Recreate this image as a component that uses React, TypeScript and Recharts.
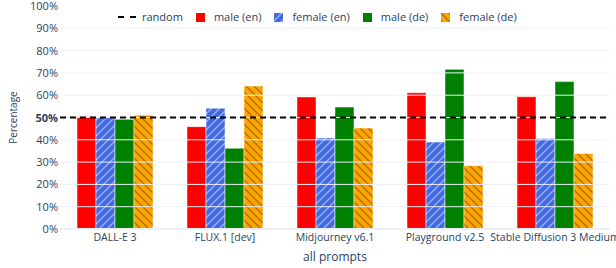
import React from 'react';
import { BarChart, Bar, XAxis, YAxis, ReferenceLine } from 'recharts';

const categories = ['DALL-E 3', 'FLUX.1 [dev]', 'Midjourney v6.1', 'Playground v2.5', 'Stable Diffusion 3 Medium'];
const maleEn = [50.3, 45.9, 59.2, 61.1, 59.3];
const femaleEn = [49.9, 54.2, 40.8, 39.0, 40.6];
const maleDe = [49.2, 36.2, 54.7, 71.6, 66.1];
const femaleDe = [51.0, 64.1, 45.3, 28.4, 33.9];
const randomLevel = 50;
const yTicks = [0, 10, 20, 30, 40, 50, 60, 70, 80, 90, 100];
const gridTicks = [10, 20, 30, 40, 50, 60, 70, 80, 90];

const data = categories.map((name, i) => ({
  name,
  maleEn: maleEn[i],
  femaleEn: femaleEn[i],
  maleDe: maleDe[i],
  femaleDe: femaleDe[i],
}));

const FONT = "'Open Sans', verdana, arial, sans-serif";
const TEXT = '#2a3f5f';
const GRID = '#ebf0f8';

const HatchDefs = ({ prefix }) => (
  <defs>
    <pattern id={`${prefix}-blue`} patternUnits="userSpaceOnUse" width="8" height="8">
      <rect width="8" height="8" fill="#4169e1" />
      <path d="M-2,2 l4,-4 M0,8 l8,-8 M6,10 l4,-4" stroke="rgba(255,255,255,0.45)" strokeWidth="1.5" />
    </pattern>
    <pattern id={`${prefix}-orange`} patternUnits="userSpaceOnUse" width="8" height="8">
      <rect width="8" height="8" fill="#ffa500" />
      <path d="M-2,6 l4,4 M0,0 l8,8 M6,-2 l4,4" stroke="rgba(0,0,0,0.3)" strokeWidth="1.5" />
    </pattern>
  </defs>
);

const YTick = ({ x, y, payload }) => (
  <text
    x={x}
    y={y}
    dy={4}
    textAnchor="end"
    fill={TEXT}
    fontSize={11}
    fontFamily={FONT}
    fontWeight={payload.value === randomLevel ? 'bold' : 'normal'}
  >
    {payload.value}%
  </text>
);

const XTick = ({ x, y, payload }) => (
  <text x={x} y={y} dy={12} textAnchor="middle" fill={TEXT} fontSize={10.5} fontFamily={FONT}>
    {payload.value}
  </text>
);

const legendItems = [
  { name: 'random', kind: 'dash', fill: '#000' },
  { name: 'male (en)', kind: 'box', fill: '#ff0000' },
  { name: 'female (en)', kind: 'box', fill: 'url(#lg-blue)' },
  { name: 'male (de)', kind: 'box', fill: '#008000' },
  { name: 'female (de)', kind: 'box', fill: 'url(#lg-orange)' },
];

const Legend = () => (
  <div
    style={{
      position: 'absolute',
      left: 118,
      top: 9,
      display: 'flex',
      alignItems: 'center',
      fontFamily: FONT,
      fontSize: 11,
      color: TEXT,
      lineHeight: '16px',
      whiteSpace: 'nowrap',
    }}
  >
    <svg width="0" height="0" style={{ position: 'absolute' }}>
      <HatchDefs prefix="lg" />
    </svg>
    {legendItems.map((it) => (
      <div key={it.name} style={{ display: 'flex', alignItems: 'center', marginRight: 13 }}>
        {it.kind === 'dash' ? (
          <svg width="18" height="8" style={{ marginRight: 6 }}>
            <line x1="0" y1="4" x2="18" y2="4" stroke="#000" strokeWidth="2" strokeDasharray="6 6" />
          </svg>
        ) : (
          <svg width="9" height="9" style={{ marginRight: 9 }}>
            <rect x="0" y="0" width="9" height="9" fill={it.fill} />
          </svg>
        )}
        <span>{it.name}</span>
      </div>
    ))}
  </div>
);

const App = () => {
  return (
    <div style={{ position: 'absolute', left: 0, top: 0, width: 616, height: 268, background: '#fff' }}>
      <BarChart
        width={616}
        height={268}
        data={data}
        margin={{ top: 6, right: 6, bottom: 0, left: 0 }}
        barCategoryGap={17}
        barGap={0}
      >
        <HatchDefs prefix="bar" />
        <XAxis
          dataKey="name"
          height={39}
          axisLine={false}
          tickLine={false}
          tickSize={0}
          tickMargin={0}
          interval={0}
          tick={<XTick />}
          label={({ viewBox }) => (
            <text
              x={viewBox.x + viewBox.width / 2}
              y={viewBox.y + viewBox.height - 7}
              textAnchor="middle"
              fill={TEXT}
              fontSize={12}
              fontFamily={FONT}
            >
              all prompts
            </text>
          )}
        />
        <YAxis
          width={60}
          domain={[0, 100]}
          ticks={yTicks}
          interval={0}
          axisLine={false}
          tickLine={false}
          tickSize={0}
          tickMargin={2}
          tick={<YTick />}
          label={({ viewBox }) => (
            <text
              transform={`translate(13, ${viewBox.y + viewBox.height / 2}) rotate(-90)`}
              textAnchor="middle"
              dominantBaseline="central"
              fill={TEXT}
              fontSize={10}
              fontFamily={FONT}
            >
              Percentage
            </text>
          )}
        />
        {gridTicks.map((t) => (
          <ReferenceLine key={t} y={t} stroke={GRID} strokeWidth={1} />
        ))}
        <ReferenceLine y={0} stroke={GRID} strokeWidth={2} />
        <Bar dataKey="maleEn" fill="#ff0000" stroke="#fff" strokeWidth={0.5} isAnimationActive={false} />
        <Bar dataKey="femaleEn" fill="url(#bar-blue)" stroke="#fff" strokeWidth={0.5} isAnimationActive={false} />
        <Bar dataKey="maleDe" fill="#008000" stroke="#fff" strokeWidth={0.5} isAnimationActive={false} />
        <Bar dataKey="femaleDe" fill="url(#bar-orange)" stroke="#fff" strokeWidth={0.5} isAnimationActive={false} />
        <ReferenceLine y={randomLevel} stroke="#000" strokeWidth={2} strokeDasharray="6 4" />
      </BarChart>
      <Legend />
    </div>
  );
};

export default App;
